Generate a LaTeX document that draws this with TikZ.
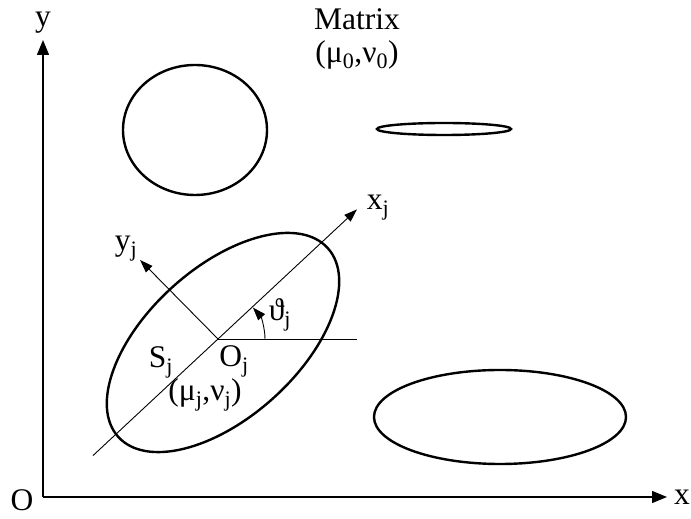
\documentclass[tikz,border=0pt]{standalone}
\usepackage{fontspec}
\setmainfont{Liberation Serif}
\usepackage{tikz}
\usetikzlibrary{arrows.meta,calc}

\tikzset{
  axis/.style={line width=1.4pt, -{Triangle[length=15pt,width=12pt]}},
  thin arrow/.style={line width=0.9pt, -{Triangle[length=13pt,width=9pt]}},
  grain/.style={line width=2.4pt},
  lab/.style={font=\fontsize{31.5}{34}\selectfont, inner sep=0pt}
}

\begin{document}
\begin{tikzpicture}[x=1pt,y=1pt]
  \useasboundingbox (0,0) rectangle (691,519);
  % axes
  \coordinate (O) at (43,22);
  \coordinate (ytip) at (43,479);
  \coordinate (xtip) at (667,22);
  \draw [axis] (O) -- (ytip);
  \draw [axis] (O) -- (xtip);
  \node [lab] (ylab) at (43,496) {y};
  \node [lab] (xlab) at (682,22) {x};
  \node [lab] (olab) at (22,19) {O};
  % matrix
  \node [lab] (matrix) at (357,500) {Matrix};
  \node [lab] (matrixmu) at (357,464) {(μ\textsubscript{0},ν\textsubscript{0})};
  % other grains
  \draw [grain] (195,389) ellipse (72 and 65);
  \draw [grain] (444,390) ellipse (67 and 6);
  \draw [grain] (500,102) ellipse (126 and 47);
  % grain j and its local frame
  \coordinate (Oj) at (218,180);
  \draw [grain, rotate around={42:(223,176.5)}] (223,176.5) ellipse (141 and 75);
  \coordinate (xjstart) at ($(Oj)+(223:171)$);
  \coordinate (xjtip) at ($(Oj)+(43:190)$);
  \coordinate (yjtip) at ($(Oj)+(134.6:111)$);
  \coordinate (hor) at (357,180);
  \draw [thin arrow] (xjstart) -- (xjtip);
  \draw [thin arrow] (Oj) -- (yjtip);
  \draw [line width=0.9pt] (Oj) -- (hor);
  \draw [thin arrow] ($(Oj)+(0:47)$) arc [start angle=0, end angle=42, radius=47];
  \node [lab] (xjlab) at (378,311) {x\textsubscript{j}};
  \node [lab] (yjlab) at (126,270) {y\textsubscript{j}};
  \node [lab] (thlab) at (280,204) {ϑ\textsubscript{j}};
  \node [lab] (sjlab) at (161,157) {S\textsubscript{j}};
  \node [lab] (ojlab) at (234,158) {O\textsubscript{j}};
  \node [lab] (mujlab) at (205,124) {(μ\textsubscript{j},ν\textsubscript{j})};
\end{tikzpicture}
\end{document}
